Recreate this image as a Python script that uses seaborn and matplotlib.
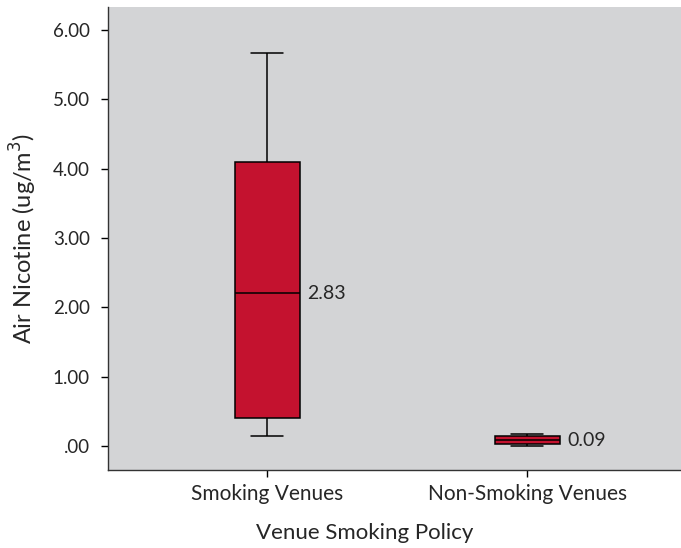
import pandas as pd
import seaborn as sns
import matplotlib.pyplot as plt

# five-number summaries (min, q1, median, q3, max)
smoking = [0.15, 0.40, 2.20, 4.10, 5.67]
non_smoking = [0.00, 0.03, 0.08, 0.14, 0.17]
categories = ["Smoking Venues", "Non-Smoking Venues"]
means = [2.83, 0.09]
yticks = [0, 1, 2, 3, 4, 5, 6]
ytick_labels = [".00", "1.00", "2.00", "3.00", "4.00", "5.00", "6.00"]

df = pd.DataFrame({
    "policy": [categories[0]] * len(smoking) + [categories[1]] * len(non_smoking),
    "nicotine": smoking + non_smoking,
})

sns.set_style("ticks")
plt.rcParams["font.family"] = ["Lato", "DejaVu Sans"]

fig = plt.figure(figsize=(6.81, 5.48), dpi=100)
ax = fig.add_axes([0.1586, 0.1423, 0.8414, 0.8449])
ax.set_facecolor("#d3d4d6")

sns.boxplot(data=df, x="policy", y="nicotine", order=categories, width=0.25,
            color="#c4122f", saturation=1, linewidth=1.1, linecolor="black",
            whis=3, showfliers=False, ax=ax)

# mean labels next to each box, at the median line
for i, cat in enumerate(categories):
    med = df[df["policy"] == cat]["nicotine"].median()
    ax.text(i + 0.155, med, f"{means[i]:.2f}", va="center", ha="left", fontsize=14)

ax.set_xlim(-0.612, 1.592)
ax.set_ylim(-0.346, 6.33)
ax.set_yticks(yticks)
ax.set_yticklabels(ytick_labels)
ax.tick_params(axis="y", labelsize=13.5, length=5, width=1, color="black", pad=8)
ax.tick_params(axis="x", labelsize=15, length=5, width=1, color="black", pad=5)
ax.set_xlabel("Venue Smoking Policy", fontsize=16, labelpad=14, x=0.4485)
ax.set_ylabel("Air Nicotine (ug/m$^3$)", fontsize=17, labelpad=10)
sns.despine(ax=ax)
for s in ["left", "bottom"]:
    ax.spines[s].set_color("#333333")
    ax.spines[s].set_linewidth(1)

fig.savefig("out.png", dpi=100)
